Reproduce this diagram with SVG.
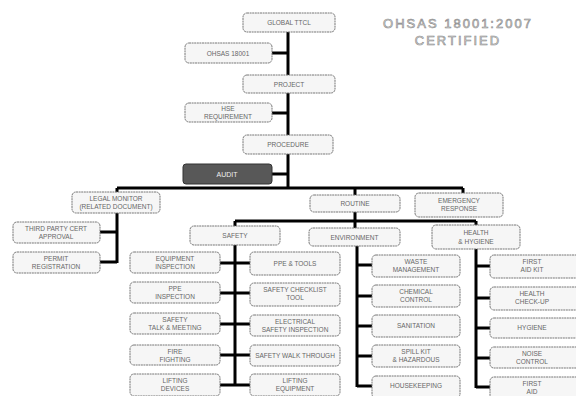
<svg xmlns="http://www.w3.org/2000/svg" width="576" height="396" viewBox="0 0 576 396">
<style>
.box{fill:#f6f6f6;stroke:#777;stroke-width:1;stroke-dasharray:2 0.6}
.dark{fill:#585858;stroke:#333;stroke-width:1}
.t{font-family:"Liberation Sans",Arial,sans-serif;font-size:6.5px;fill:#666;text-anchor:middle}
.tw{font-family:"Liberation Sans",Arial,sans-serif;font-size:7px;fill:#eee;text-anchor:middle}
.big{font-family:"Liberation Sans",Arial,sans-serif;font-size:13px;letter-spacing:2px;fill:#e0e0e0;stroke:#888;stroke-width:0.6;text-anchor:middle}
.c{stroke:#000;stroke-width:3;fill:none}
</style>
<rect width="576" height="396" fill="#fff"/>
<g id="connectors">
<path class="c" d="M288 31V188"/>
<path class="c" d="M272 53H288M272 113H288M272 174H288"/>
<path class="c" d="M117 188H463M117 188V193M355 188V195M463 188V193"/>
<path class="c" d="M117 213V263M100 232H117M100 262H117"/>
<path class="c" d="M355 212V221M235 221H476M235 221V226M355 221V228M476 221V226"/>
<path class="c" d="M235 245V386M220 263H250M220 293H250M220 324H250M220 355H250M220 385H250"/>
<path class="c" d="M357 246V387M357 265H372M357 296H372M357 326H372M357 356H372M357 386H372"/>
<path class="c" d="M476 249V388M476 266H490M476 298H490M476 328H490M476 358H490M476 387H490"/>
</g>
<g id="certified">
<text class="big" x="458" y="28">OHSAS 18001:2007</text>
<text class="big" x="458" y="45">CERTIFIED</text>
</g>
<g id="global"><rect class="box" x="243" y="13" width="92" height="19" rx="4"/><text class="t" x="289" y="25">GLOBAL TTCL</text></g>
<g id="ohsas"><rect class="box" x="185" y="43" width="87" height="20" rx="4"/><text class="t" x="228" y="55.5">OHSAS 18001</text></g>
<g id="project"><rect class="box" x="243" y="75" width="92" height="18" rx="4"/><text class="t" x="289" y="86.5">PROJECT</text></g>
<g id="hse"><rect class="box" x="185" y="103" width="87" height="19" rx="4"/><text class="t" x="228" y="111">HSE</text><text class="t" x="228" y="118.5">REQUIREMENT</text></g>
<g id="procedure"><rect class="box" x="243" y="135" width="90" height="19" rx="4"/><text class="t" x="288" y="147">PROCEDURE</text></g>
<g id="audit"><rect class="dark" x="183" y="164" width="89" height="20" rx="3"/><text class="tw" x="227" y="176.5">AUDIT</text></g>
<g id="legal"><rect class="box" x="72" y="192" width="88" height="21" rx="4"/><text class="t" x="116" y="201">LEGAL MONITOR</text><text class="t" x="116" y="209">(RELATED DOCUMENT)</text></g>
<g id="routine"><rect class="box" x="310" y="195" width="90" height="17" rx="4"/><text class="t" x="355" y="205.5">ROUTINE</text></g>
<g id="emergency"><rect class="box" x="415" y="193" width="88" height="24" rx="4"/><text class="t" x="459" y="203">EMERGENCY</text><text class="t" x="459" y="211">RESPONSE</text></g>
<g id="safety"><rect class="box" x="190" y="226" width="90" height="19" rx="4"/><text class="t" x="235" y="238">SAFETY</text></g>
<g id="environment"><rect class="box" x="309" y="228" width="91" height="18" rx="4"/><text class="t" x="354.5" y="239.5">ENVIRONMENT</text></g>
<g id="health"><rect class="box" x="432" y="225" width="88" height="24" rx="4"/><text class="t" x="476" y="235">HEALTH</text><text class="t" x="476" y="244">&amp; HYGIENE</text></g>
<g id="legal1"><rect class="box" x="13" y="222" width="87" height="21" rx="4"/><text class="t" x="56" y="231">THIRD PARTY CERT</text><text class="t" x="56" y="239">APPROVAL</text></g>
<g id="legal2"><rect class="box" x="13" y="252" width="87" height="21" rx="4"/><text class="t" x="56" y="261">PERMIT</text><text class="t" x="56" y="269">REGISTRATION</text></g>
<g id="s1"><rect class="box" x="130" y="252" width="90" height="21" rx="4"/><text class="t" x="175" y="261">EQUIPMENT</text><text class="t" x="175" y="269">INSPECTION</text></g>
<g id="s2"><rect class="box" x="130" y="282" width="90" height="21" rx="4"/><text class="t" x="175" y="291">PPE</text><text class="t" x="175" y="299">INSPECTION</text></g>
<g id="s3"><rect class="box" x="130" y="313" width="90" height="21" rx="4"/><text class="t" x="175" y="322">SAFETY</text><text class="t" x="175" y="330">TALK &amp; MEETING</text></g>
<g id="s4"><rect class="box" x="130" y="345" width="90" height="20" rx="4"/><text class="t" x="175" y="353.5">FIRE</text><text class="t" x="175" y="361.5">FIGHTING</text></g>
<g id="s5"><rect class="box" x="130" y="374" width="90" height="22" rx="4"/><text class="t" x="175" y="383">LIFTING</text><text class="t" x="175" y="391">DEVICES</text></g>
<g id="s6"><rect class="box" x="250" y="252" width="90" height="23" rx="4"/><text class="t" x="295" y="266">PPE &amp; TOOLS</text></g>
<g id="s7"><rect class="box" x="250" y="283" width="90" height="23" rx="4"/><text class="t" x="295" y="292">SAFETY CHECKLIST</text><text class="t" x="295" y="300">TOOL</text></g>
<g id="s8"><rect class="box" x="250" y="315" width="90" height="21" rx="4"/><text class="t" x="295" y="324">ELECTRICAL</text><text class="t" x="295" y="332">SAFETY INSPECTION</text></g>
<g id="s9"><rect class="box" x="250" y="345" width="90" height="21" rx="4"/><text class="t" x="295" y="358">SAFETY WALK THROUGH</text></g>
<g id="s10"><rect class="box" x="250" y="374" width="90" height="22" rx="4"/><text class="t" x="295" y="383">LIFTING</text><text class="t" x="295" y="391">EQUIPMENT</text></g>
<g id="e1"><rect class="box" x="372" y="255" width="88" height="22" rx="4"/><text class="t" x="416" y="264">WASTE</text><text class="t" x="416" y="272">MANAGEMENT</text></g>
<g id="e2"><rect class="box" x="372" y="285" width="88" height="22" rx="4"/><text class="t" x="416" y="294">CHEMICAL</text><text class="t" x="416" y="302">CONTROL</text></g>
<g id="e3"><rect class="box" x="372" y="315" width="88" height="22" rx="4"/><text class="t" x="416" y="328">SANITATION</text></g>
<g id="e4"><rect class="box" x="372" y="345" width="88" height="22" rx="4"/><text class="t" x="416" y="354">SPILL KIT</text><text class="t" x="416" y="362">&amp; HAZARDOUS</text></g>
<g id="e5"><rect class="box" x="372" y="376" width="88" height="22" rx="4"/><text class="t" x="416" y="388">HOUSEKEEPING</text></g>
<g id="h1"><rect class="box" x="490" y="255" width="95" height="23" rx="4"/><text class="t" x="532" y="264">FIRST</text><text class="t" x="532" y="272">AID KIT</text></g>
<g id="h2"><rect class="box" x="490" y="287" width="95" height="23" rx="4"/><text class="t" x="532" y="296">HEALTH</text><text class="t" x="532" y="304">CHECK-UP</text></g>
<g id="h3"><rect class="box" x="490" y="318" width="95" height="20" rx="4"/><text class="t" x="532" y="330">HYGIENE</text></g>
<g id="h4"><rect class="box" x="490" y="347" width="95" height="21" rx="4"/><text class="t" x="532" y="356">NOISE</text><text class="t" x="532" y="364">CONTROL</text></g>
<g id="h5"><rect class="box" x="490" y="377" width="95" height="22" rx="4"/><text class="t" x="532" y="386">FIRST</text><text class="t" x="532" y="394">AID</text></g>
</svg>
